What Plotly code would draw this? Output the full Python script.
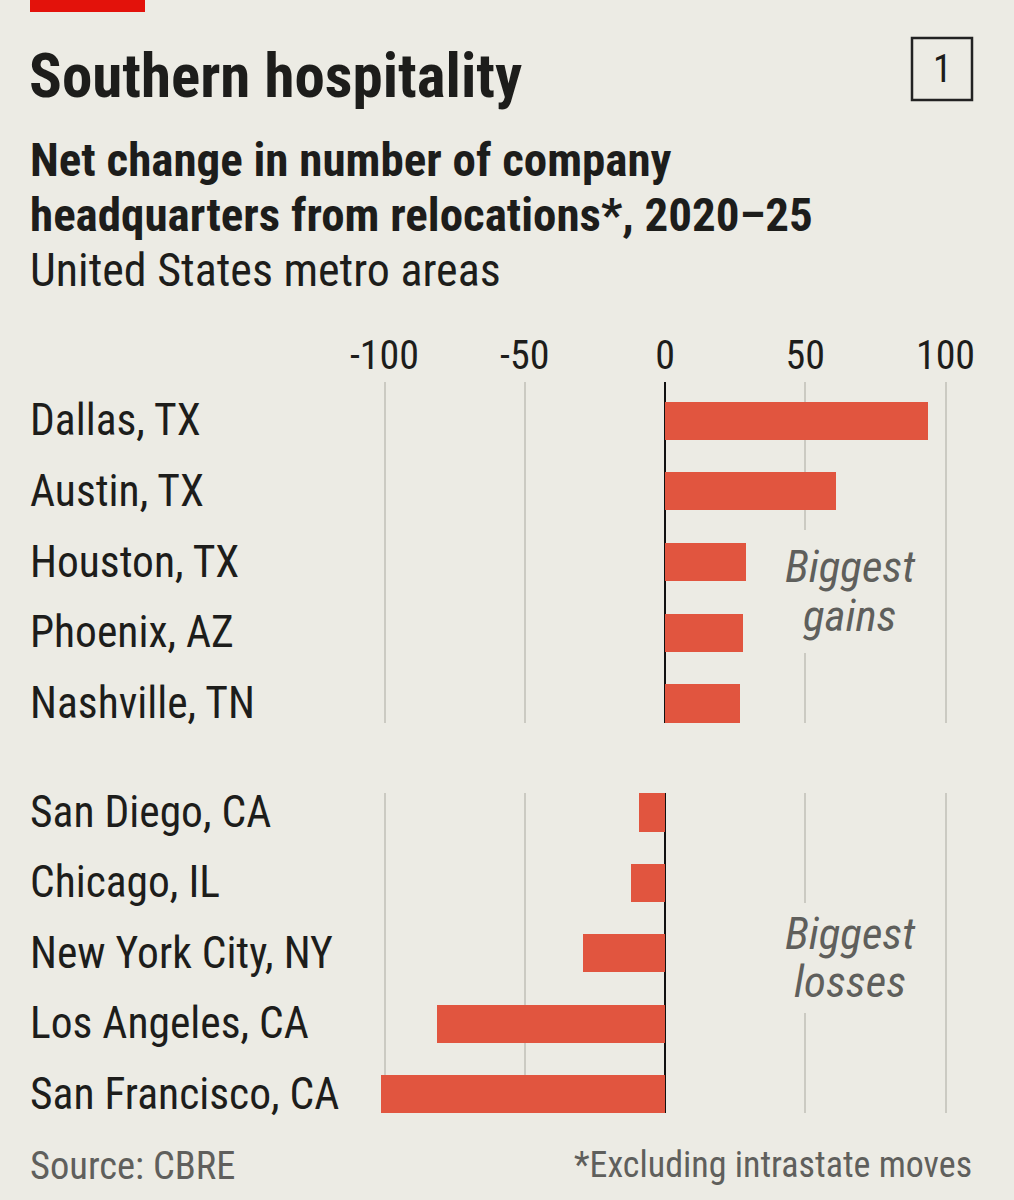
import plotly.graph_objects as go

W, H = 1014, 1200

gain_cities = ["Dallas, TX", "Austin, TX", "Houston, TX", "Phoenix, AZ", "Nashville, TN"]
gain_values = [94, 61, 29, 28, 27]
loss_cities = ["San Diego, CA", "Chicago, IL", "New York City, NY", "Los Angeles, CA", "San Francisco, CA"]
loss_values = [-9, -12, -29, -81, -101]
tick_values = [-100, -50, 0, 50, 100]
tick_labels = ["-100", "-50", "0", "50", "100"]

BG = "#ecebe4"
RED = "#e1553f"
GRID = "#cbcac2"
TXT = "#1d1d1b"
GREY = "#5f5f5c"
FONT = "Roboto Condensed, Liberation Sans Narrow, Roboto, sans-serif"

def px(x):
    return x / W

def py(y):
    return 1 - y / H

fig = go.Figure()
fig.add_trace(go.Bar(x=gain_values, y=list(range(len(gain_cities))), orientation="h",
                     marker=dict(color=RED, line=dict(width=0)), width=0.54,
                     xaxis="x", yaxis="y", showlegend=False, hoverinfo="skip"))
fig.add_trace(go.Bar(x=loss_values, y=list(range(len(loss_cities))), orientation="h",
                     marker=dict(color=RED, line=dict(width=0)), width=0.54,
                     xaxis="x2", yaxis="y2", showlegend=False, hoverinfo="skip"))

x0px, ppu = 665, 2.805
xr = [-105, 115]
xdom = [px(x0px + xr[0] * ppu), px(x0px + xr[1] * ppu)]

common_x = dict(range=xr, domain=xdom, tickvals=tick_values, ticktext=tick_labels,
                showgrid=True, gridcolor=GRID, gridwidth=1.5,
                zeroline=True, zerolinecolor="#111111", zerolinewidth=2,
                showline=False, ticks="", fixedrange=True, automargin=False)

fig.update_layout(
    width=W, height=H,
    margin=dict(l=0, r=0, t=0, b=0, autoexpand=False),
    paper_bgcolor=BG, plot_bgcolor=BG,
    font=dict(family=FONT, color=TXT, size=36),
    bargap=0,
    xaxis=dict(**common_x, side="top", anchor="y", showticklabels=True,
               tickfont=dict(size=40, color=TXT), ticklabelstandoff=4),
    yaxis=dict(domain=[py(723), py(382)], range=[4.277, -0.547], showgrid=False,
               zeroline=False, showticklabels=False, fixedrange=True, automargin=False),
    xaxis2=dict(**common_x, anchor="y2", showticklabels=False),
    yaxis2=dict(domain=[py(1113), py(793)], range=[4.27, -0.277], showgrid=False,
                zeroline=False, showticklabels=False, fixedrange=True, automargin=False),
)

ann = []
# category labels
for i, c in enumerate(gain_cities):
    ann.append(dict(xref="paper", yref="y", x=px(28), y=i, text=c, xanchor="left",
                    yanchor="middle", showarrow=False, font=dict(size=43.5, color=TXT)))
for i, c in enumerate(loss_cities):
    ann.append(dict(xref="paper", yref="y2", x=px(28), y=i, text=c, xanchor="left",
                    yanchor="middle", showarrow=False, font=dict(size=43.5, color=TXT)))

# panel labels
for txt, yy in [("Biggest", 567), ("gains", 615), ("Biggest", 933), ("losses", 981)]:
    ann.append(dict(xref="paper", yref="paper", x=px(850), y=py(yy), text=f"<i>{txt}</i>",
                    xanchor="center", yanchor="middle",
                    showarrow=False, align="center",
                    font=dict(size=45, color=GREY)))

# titles
ann.append(dict(xref="paper", yref="paper", x=px(27), y=py(76), text="<b>Southern hospitality</b>",
                xanchor="left", yanchor="middle", showarrow=False, font=dict(size=61, color=TXT)))
ann.append(dict(xref="paper", yref="paper", x=px(28), y=py(160), text="<b>Net change in number of company</b>",
                xanchor="left", yanchor="middle", showarrow=False, font=dict(size=47, color=TXT)))
ann.append(dict(xref="paper", yref="paper", x=px(28), y=py(214), text="<b>headquarters from relocations*, 2020–25</b>",
                xanchor="left", yanchor="middle", showarrow=False, font=dict(size=47, color=TXT)))
ann.append(dict(xref="paper", yref="paper", x=px(28), y=py(270), text="United States metro areas",
                xanchor="left", yanchor="middle", showarrow=False, font=dict(size=46, color=TXT)))

# chart number box
ann.append(dict(xref="paper", yref="paper", x=px(942), y=py(69), text="1",
                xanchor="center", yanchor="middle",
                showarrow=False, font=dict(size=38, color=TXT)))

# footer
ann.append(dict(xref="paper", yref="paper", x=px(28), y=py(1165), text="Source: CBRE",
                xanchor="left", yanchor="middle", showarrow=False, font=dict(size=38.5, color=GREY)))
ann.append(dict(xref="paper", yref="paper", x=px(974), y=py(1165), text="*Excluding intrastate moves",
                xanchor="right", yanchor="middle", showarrow=False, font=dict(size=36, color=GREY)))

fig.update_layout(annotations=ann)

# red tab at top-left
fig.add_shape(type="rect", xref="paper", yref="paper", x0=px(30), x1=px(145), y0=py(12), y1=py(0),
              fillcolor="#e3120b", line=dict(width=0))
# number box
fig.add_shape(type="rect", xref="paper", yref="paper", x0=px(912), x1=px(972), y0=py(100), y1=py(38),
              fillcolor="rgba(0,0,0,0)", line=dict(color="#222", width=2.5))
# gridline gaps behind the panel labels
for y_top, y_bot in [(530, 653), (903, 1013)]:
    fig.add_shape(type="rect", xref="paper", yref="paper", x0=px(795), x1=px(815),
                  y0=py(y_bot), y1=py(y_top), fillcolor=BG, line=dict(width=0), layer="above")

fig.write_html("out.html")
